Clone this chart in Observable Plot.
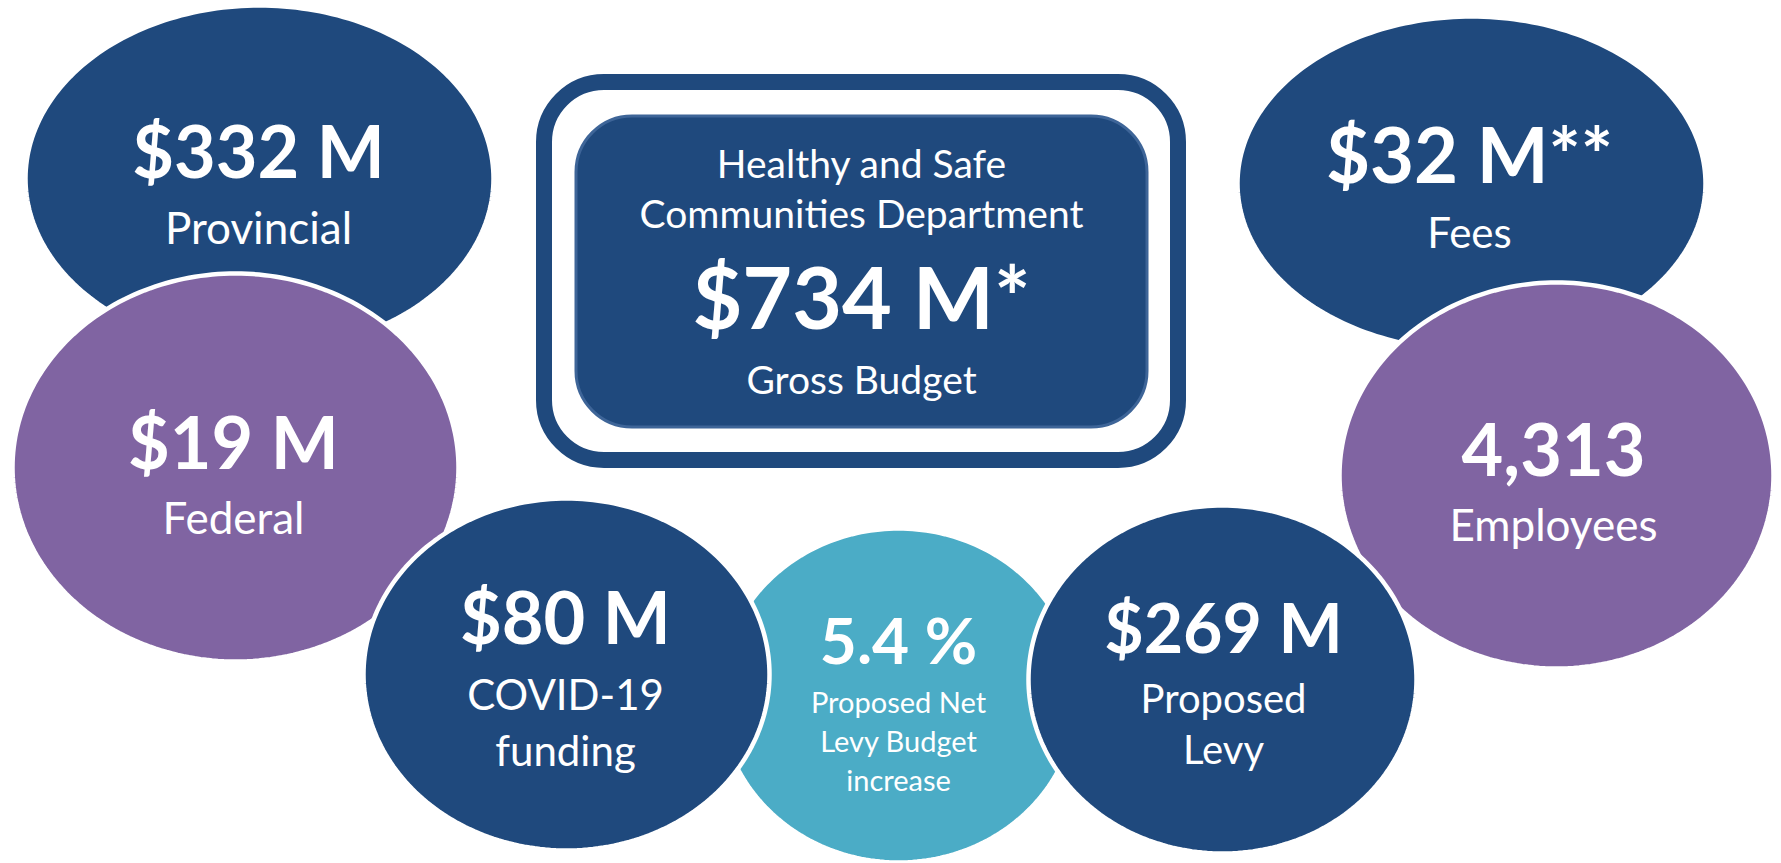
<!DOCTYPE html>
<html><head><meta charset="utf-8">
<script src="https://cdn.jsdelivr.net/npm/d3@7"></script>
<script src="https://cdn.jsdelivr.net/npm/@observablehq/plot@0.6"></script>
<style>html,body{margin:0;padding:0;background:#fff;overflow:hidden}</style>
</head><body><div id="chart"></div>
<script>
// ---- data ----
const figures  = ["$332 M", "$19 M", "$32 M**", "4,313", "5.4 %", "$80 M", "$269 M"];
const captions = ["Provincial", "Federal", "Fees", "Employees", "Proposed Net\nLevy Budget\nincrease", "COVID-19\nfunding", "Proposed\nLevy"];
const tiers    = ["primary", "secondary", "primary", "secondary", "accent", "primary", "primary"];
const deptTitle   = "Healthy and Safe\nCommunities Department";
const deptBudget  = "$734 M*";
const deptCaption = "Gross Budget";

// ---- layout (pixels of a 1781x863 canvas) ----
const W = 1781, H = 863;
const centerX = [259, 235, 1471, 1556, 898, 566, 1222];
const centerY = [178, 467, 183, 475, 695, 674, 679];
const radiusX = [234, 223, 234, 217, 179, 203, 194];
const radiusY = [173, 194, 167, 193, 167, 176, 174];
const textX       = [258, 233, 1469, 1553, 898, 565, 1223];
const figureBase  = [177, 468, 182, 475, 663, 643, 652];
const captionBase = [243, 533, 247, 540, 790, 765, 763];
const figureSize  = [72, 72, 76, 72, 64, 72, 68];
const captionSize = [44, 44, 42, 44, 29, 42, 40];
const captionLead = [1.2, 1.2, 1.2, 1.2, 1.33, 1.33, 1.27];

const NAVY = "#1F497D", PURPLE = "#8064A2", TEAL = "#4BACC6";
const FONT = "Lato, 'Noto Sans', sans-serif";

// ellipse outlines built from each bubble's centre and radii
const N = 240;
const outline = [];
figures.forEach((f, i) => {
  for (let k = 0; k < N; k++) {
    const a = 2 * Math.PI * k / N;
    outline.push({id: i, tier: tiers[i], x: centerX[i] + radiusX[i] * Math.cos(a), y: centerY[i] + radiusY[i] * Math.sin(a)});
  }
});

const bubbles = figures.map((f, i) => ({figure: f, caption: captions[i], x: textX[i], fy: figureBase[i], cy: captionBase[i]}));

const frame = [{x1: 544, x2: 1178, y1: 82, y2: 460}];
const panel = [{x1: 576, x2: 1147, y1: 116, y2: 427}];

const textMarks = [];
bubbles.forEach((b, i) => {
  textMarks.push(Plot.text([b], {x: "x", y: "fy", text: "figure", fill: "white", fontWeight: "bold", fontSize: figureSize[i], lineAnchor: "bottom", textAnchor: "middle", fontFamily: FONT}));
  textMarks.push(Plot.text([b], {x: "x", y: "cy", text: "caption", fill: "white", fontSize: captionSize[i], lineHeight: captionLead[i], lineAnchor: "bottom", textAnchor: "middle", fontFamily: FONT}));
});
const dept = [{title: deptTitle, budget: deptBudget, caption: deptCaption, x: 861, ty: 227, by: 328, cy: 393}];
textMarks.push(Plot.text(dept, {x: "x", y: "ty", text: "title", fill: "white", fontSize: 39, lineHeight: 1.28, lineAnchor: "bottom", textAnchor: "middle", fontFamily: FONT}));
textMarks.push(Plot.text(dept, {x: "x", y: "by", text: "budget", fill: "white", fontSize: 86, fontWeight: "bold", lineAnchor: "bottom", textAnchor: "middle", fontFamily: FONT}));
textMarks.push(Plot.text(dept, {x: "x", y: "cy", text: "caption", fill: "white", fontSize: 39, lineAnchor: "bottom", textAnchor: "middle", fontFamily: FONT}));

const chart = Plot.plot({
  width: W, height: H, margin: 0,
  x: {domain: [0, W], axis: null},
  y: {domain: [0, H], reverse: true, axis: null},
  color: {domain: ["primary", "secondary", "accent"], range: [NAVY, PURPLE, TEAL]},
  style: {background: "white", fontFamily: FONT},
  marks: [
    Plot.line(outline, {x: "x", y: "y", z: "id", fill: "tier", stroke: "white", strokeWidth: 4.5, curve: "linear-closed"}),
    Plot.rect(frame, {x1: "x1", x2: "x2", y1: "y1", y2: "y2", fill: "white", stroke: NAVY, strokeWidth: 16, rx: 60}),
    Plot.rect(panel, {x1: "x1", x2: "x2", y1: "y1", y2: "y2", fill: NAVY, stroke: "#3E6598", strokeWidth: 3, rx: 56}),
    ...textMarks
  ]
});
document.getElementById("chart").appendChild(chart);
</script>
</body></html>
